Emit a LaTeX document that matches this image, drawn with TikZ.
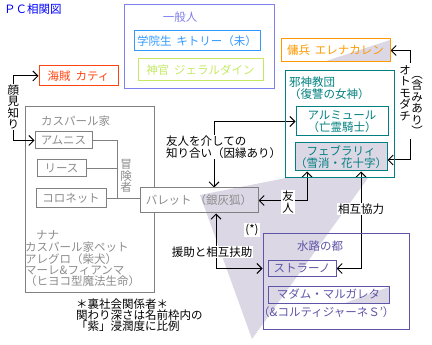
\documentclass[tikz,border=0pt]{standalone}
\usepackage{fontspec}
\setmainfont{Noto Sans CJK JP}
\usetikzlibrary{arrows.meta}
\pgfdeclarelayer{bglayer}
\pgfdeclarelayer{connlayer}
\pgfsetlayers{bglayer,connlayer,main}
\definecolor{cTitle}{HTML}{0000FF}
\definecolor{cIppan}{HTML}{7F7FEF}
\definecolor{cGakuin}{HTML}{3399FF}
\definecolor{cShinkan}{HTML}{C4E864}
\definecolor{cKaizoku}{HTML}{FF4411}
\definecolor{cYouhei}{HTML}{FF9900}
\definecolor{cTeal}{HTML}{008080}
\definecolor{cGrayBox}{HTML}{808080}
\definecolor{cGrayText}{HTML}{8C8C8C}
\definecolor{cSuiro}{HTML}{5F55A8}
\definecolor{cWedge}{HTML}{DCD7E5}
\newcommand{\myhsp}{\hspace{5pt}}
\begin{document}
\begin{tikzpicture}[x=1pt,y=-1pt,
  >={Straight Barb[length=5pt,width=10pt]},
  every node/.style={inner sep=0pt, font=\fontsize{11.5}{11.5}\selectfont},
  bx/.style={draw=#1, text=#1, line width=1pt, align=center},
  conn/.style={draw=black, line width=1pt},
  gline/.style={draw=cGrayBox, line width=1pt},
  lbl/.style={text=black, align=center, inner sep=1pt}
]
\useasboundingbox (0,0) rectangle (432,345);

% ---------- background: big gray box, purple wedge ----------
\begin{pgfonlayer}{bglayer}
\node[bx=cGrayBox, minimum width=129pt, minimum height=185pt] (caspar) at (89.5,199.5) {};
\fill[white] (140,188) rectangle (258,213);
\fill[cWedge] (200,195) -- (286,178) -- (368,178) -- (252,339) -- cycle;
\fill[cWedge] (323,62) -- (390,62) -- (390,40) -- cycle;
\fill[cWedge] (345,303) -- (389,303) -- (389,287) -- cycle;
\end{pgfonlayer}

% ---------- title ----------
\node[text=cTitle, anchor=west] (title) at (4,9) {ＰＣ相関図};

% ---------- general public ----------
\node[bx=cIppan, minimum width=150pt, minimum height=84pt] (ippan) at (199,47) {};
\node[text=cIppan] (ippanlbl) at (180,17) {一般人};
\node[bx=cGakuin, minimum width=126pt, minimum height=20pt] (gakuin) at (197,41) {学院生\myhsp キトリー（未）};
\node[bx=cShinkan, minimum width=125pt, minimum height=22pt] (shinkan) at (200.5,70) {神官\myhsp ジェラルダイン};

% ---------- pirate / mercenary ----------
\node[bx=cKaizoku, minimum width=79pt, minimum height=20pt] (kaizoku) at (78.5,76) {海賊\myhsp カティ};
\node[bx=cYouhei, minimum width=109pt, minimum height=23pt] (youhei) at (335.5,50.5) {傭兵\myhsp エレナカレン};

% ---------- evil cult ----------
\node[bx=cTeal, minimum width=109pt, minimum height=107pt] (jashin) at (339.5,124.5) {};
\node[text=cTeal, align=left, anchor=west] (jashinlbl) at (289,88) {邪神教団\\（復讐の女神）};
\node[bx=cTeal, minimum width=92pt, minimum height=29pt] (armure) at (342,121.5) {アルミュール\\（亡霊騎士）};
\node[bx=cTeal, fill=cWedge, minimum width=88pt, minimum height=28pt] (feb) at (341,157) {フェブラリィ\\（雪消・花十字）};

% ---------- Caspar family ----------
\node[text=cGrayText, anchor=west] (casparlbl) at (41,121) {カスパール家};
\node[bx=cGrayBox, text=cGrayText, minimum width=57pt, minimum height=17pt] (amunisu) at (63.5,140.5) {アムニス};
\node[bx=cGrayBox, text=cGrayText, minimum width=49pt, minimum height=17pt] (riisu) at (61.5,168.5) {リース};
\node[bx=cGrayBox, text=cGrayText, minimum width=70pt, minimum height=19pt] (coronet) at (71,198.5) {コロネット};
\node[text=cGrayText, align=center] (bouken) at (126,176) {冒\\険\\者};
\node[text=cGrayText, anchor=west] (nana) at (36,235) {ナナ};
\node[text=cGrayText, align=left, anchor=west, font=\fontsize{11.5}{11.2}\selectfont] (pets) at (25,264.5) {カスパール家ペット\\アレグロ（柴犬）\\マーレ\&フィアンマ\\（ヒヨコ型魔法生命）};

% ---------- Barrett ----------
\node[bx=cGrayBox, text=cGrayText, minimum width=118pt, minimum height=25pt] (palette) at (199,200.5) {バレット\hspace{3pt}（銀灰狐）};

% ---------- water city ----------
\node[bx=cSuiro, minimum width=146pt, minimum height=95pt] (suiro) at (336,281.5) {};
\node[text=cSuiro] (suirolbl) at (320,246) {水路の都};
\node[bx=cSuiro, minimum width=68pt, minimum height=15pt] (sutorano) at (302,268.5) {ストラーノ};
\node[bx=cSuiro, minimum width=121pt, minimum height=17pt] (madam) at (328.5,294.5) {マダム・マルガレタ};
\node[text=cSuiro, anchor=west] (corti) at (258,312) {（\&コルティジャーネＳ’）};

% ---------- note ----------
\node[align=left, anchor=west, font=\fontsize{11.5}{11}\selectfont] (note) at (76,315) {＊裏社会関係者＊\\関わり深さは名前枠内の\\「紫」浸潤度に比例};

% ---------- connectors ----------
\begin{pgfonlayer}{connlayer}
% acquaintance
\coordinate (kA) at (13,140.5);
\draw[conn,<->] (kaizoku.west) -| (kA) -- (amunisu.west);
\node[lbl, fill=white] (kaomi) at (13.5,107) {顔\\見\\知\\り};

% adventurers
\coordinate (tA) at (117,140.5);
\draw[gline] (amunisu.east) -- (tA) -- (tA |- coronet.east);
\draw[gline] (riisu.east) -- (riisu.east -| tA);
\draw[gline] (coronet.east) -- (coronet.east -| palette.west);

% via friend
\coordinate (cB) at (214,121.5);
\draw[conn,<->] (armure.west) -- (cB) -- (cB |- palette.north);
\node[lbl, fill=white, align=left, anchor=west] (viafriend) at (165,147) {友人を介しての\\知り合い（因縁あり）};

% friend
\coordinate (cC) at (307,200.5);
\draw[conn,<->] (feb.south -| cC) -- (cC) -- (palette.east);
\node[lbl, fill=white] (yujin) at (288,202) {友\\人};

% otomodachi
\coordinate (cD) at (410,160);
\draw[conn,<->] (youhei.east) -| (cD) -- (cD -| feb.east);
\fill[white] (399,63) rectangle (423,139);
\node[lbl] (otomo) at (405,93) {オ\\ト\\モ\\ダ\\チ};
\node[lbl] (fukumi) at (417,106) {︵\\含\\み\\あ\\り\\︶};

% mutual cooperation
\coordinate (cE) at (361,268.5);
\draw[conn,<->] (feb.south -| cE) -- (cE) -- (sutorano.east);
\node[lbl, fill=white] (kyoryoku) at (361,209) {相互協力};

% aid
\coordinate (cF) at (216,268.5);
\draw[conn,<->] (palette.south -| cF) -- (cF) -- (cF -| suiro.west);
\node[lbl, fill=white] (enjo) at (212,252) {援助と相互扶助};
\node[lbl, fill=white] (star) at (252,230) {(*)};
\end{pgfonlayer}
\end{tikzpicture}
\end{document}
